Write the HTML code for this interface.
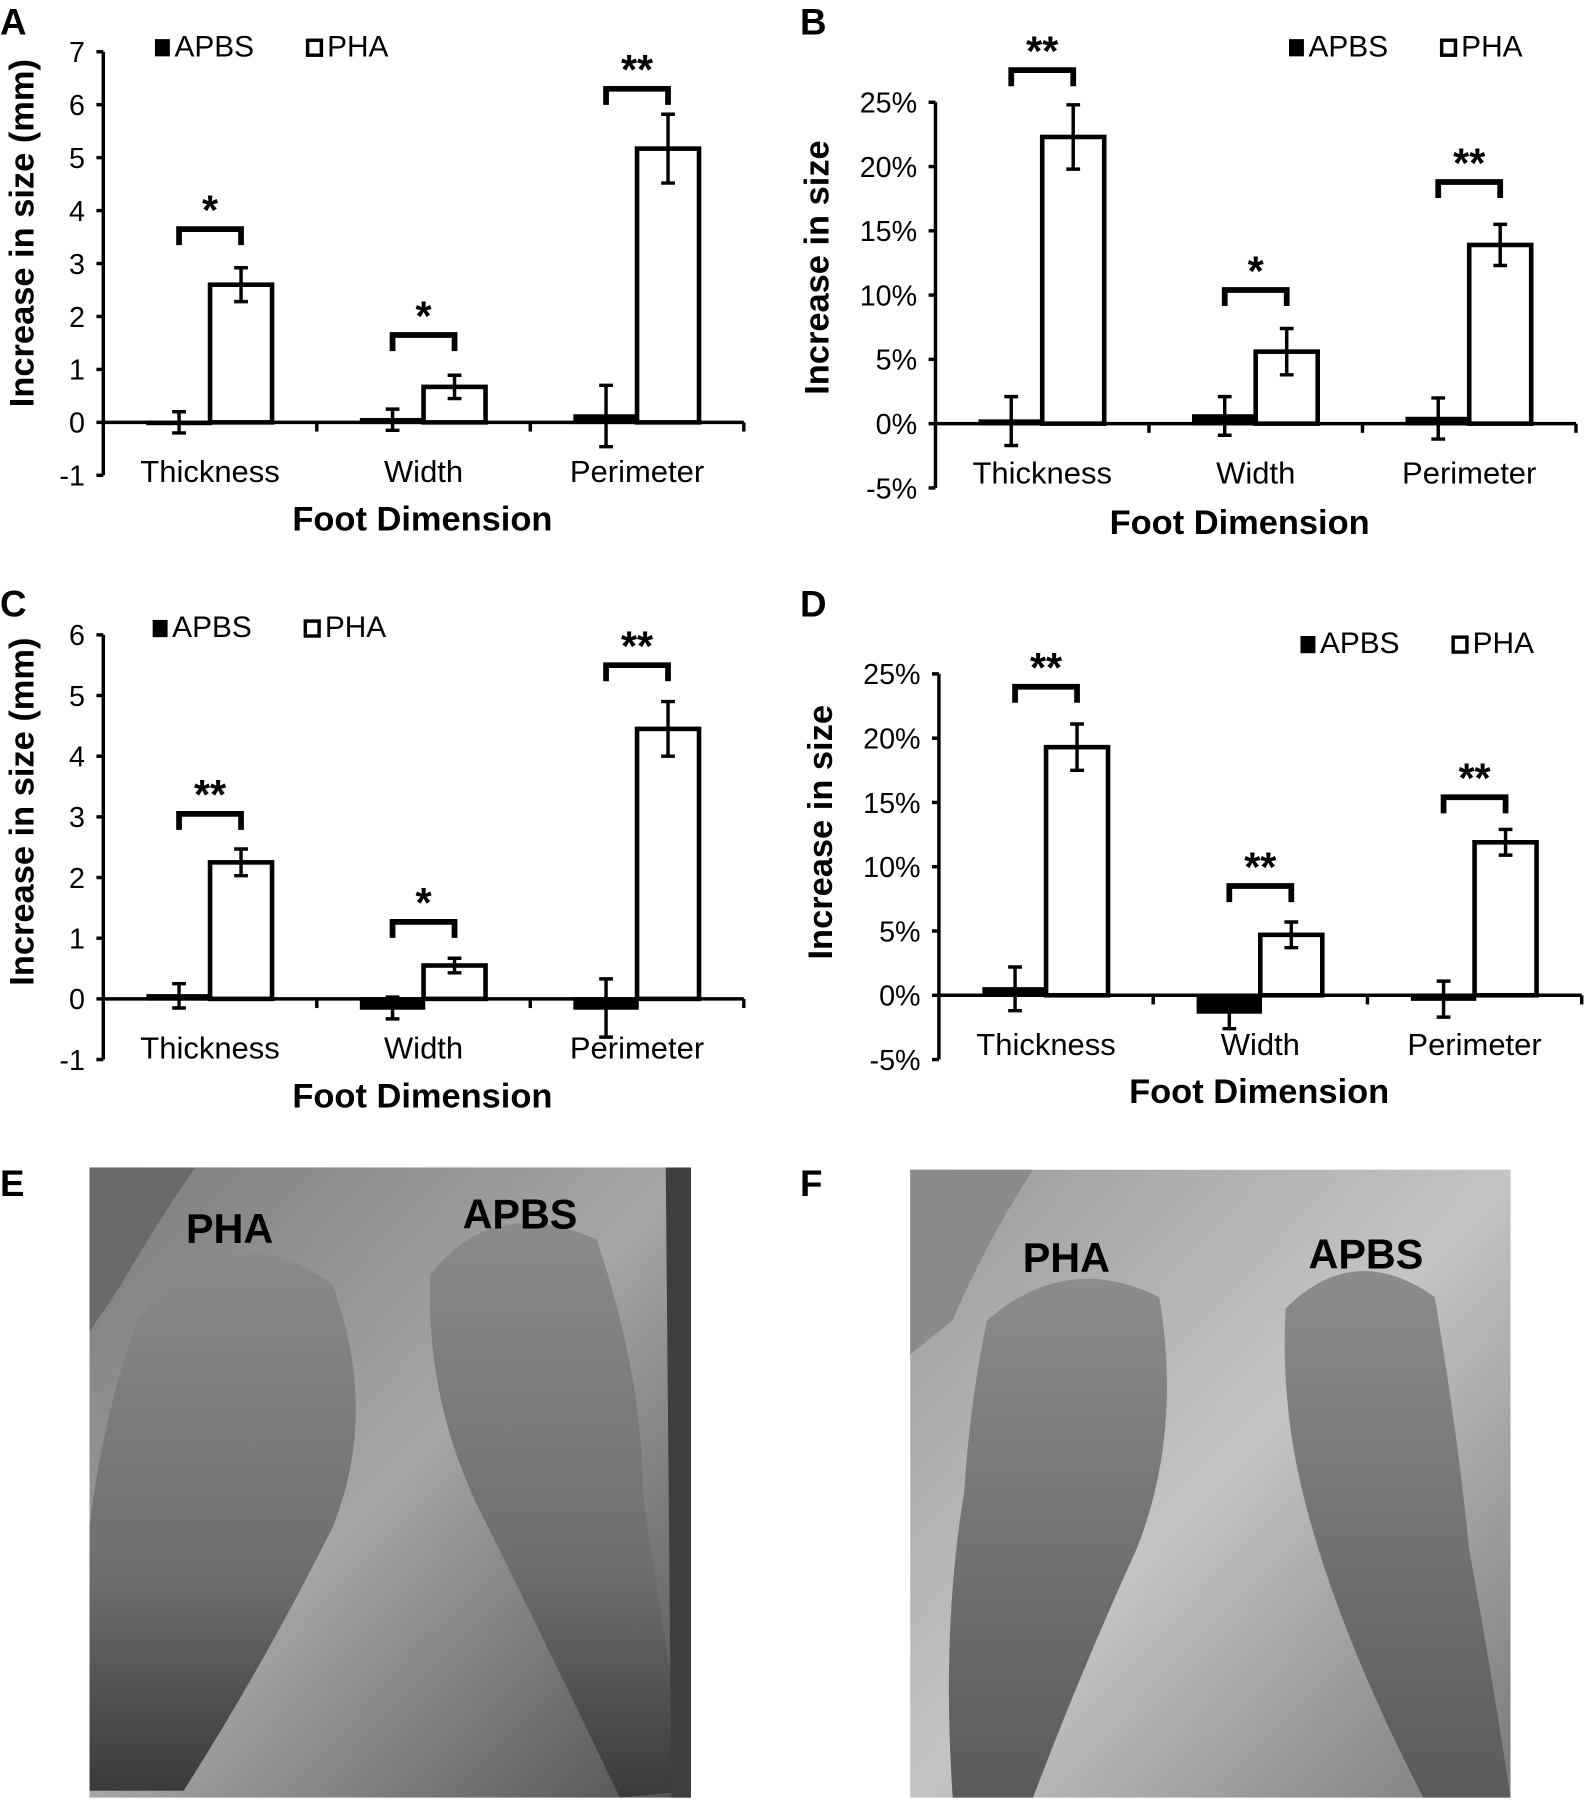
<!DOCTYPE html>
<html><head><meta charset="utf-8"><style>
html,body{margin:0;padding:0;background:#fff;}
svg{display:block;}
text{font-family:"Liberation Sans Narrow","Liberation Sans",sans-serif;fill:#000;}
.b{font-family:"Liberation Sans",sans-serif;font-weight:bold;}
</style></head><body>
<svg id="fig" width="1584" height="1800" viewBox="0 0 1380 1568" xmlns="http://www.w3.org/2000/svg">
<defs>
<linearGradient id="gE" x1="0" y1="0" x2="1" y2="1">
<stop offset="0" stop-color="#7c7c7c"/><stop offset="0.5" stop-color="#a6a6a6"/><stop offset="1" stop-color="#505050"/>
</linearGradient>
<linearGradient id="gF" x1="0" y1="0" x2="1" y2="1">
<stop offset="0" stop-color="#9a9a9a"/><stop offset="0.5" stop-color="#c4c4c4"/><stop offset="1" stop-color="#7a7a7a"/>
</linearGradient>
<linearGradient id="footE" x1="0" y1="0" x2="0" y2="1">
<stop offset="0" stop-color="#8a8a8a"/><stop offset="0.6" stop-color="#6e6e6e"/><stop offset="1" stop-color="#3a3a3a"/>
</linearGradient>
<linearGradient id="footF" x1="0" y1="0" x2="0" y2="1">
<stop offset="0" stop-color="#8c8c8c"/><stop offset="1" stop-color="#5a5a5a"/>
</linearGradient>
</defs>
<g id="charts"></g>
<g>
<rect x="78" y="1017" width="524" height="549" fill="url(#gE)"/>
<path d="M78 1017 L170 1017 Q140 1060 105 1120 L78 1160Z" fill="#6a6a6a"/>
<path d="M120 1150 Q200 1050 290 1120 Q330 1230 290 1330 Q230 1450 160 1560 L78 1560 L78 1330 Q90 1230 120 1150Z" fill="url(#footE)"/>
<path d="M375 1110 Q430 1040 520 1080 Q560 1200 560 1300 Q580 1440 602 1560 L540 1566 Q470 1420 420 1320 Q370 1220 375 1110Z" fill="url(#footE)"/>
<path d="M580 1017 L602 1017 L602 1566 L585 1566Z" fill="#3e3e3e"/>
<text class="b" x="200" y="1083" font-size="36" text-anchor="middle">PHA</text>
<text class="b" x="453" y="1070" font-size="36" text-anchor="middle">APBS</text>
</g>
<g>
<rect x="793" y="1019" width="523" height="547" fill="url(#gF)"/>
<path d="M793 1019 L900 1019 Q860 1080 830 1150 L793 1180Z" fill="#8a8a8a"/>
<path d="M860 1150 Q930 1090 1010 1130 Q1030 1250 990 1350 Q940 1460 900 1566 L830 1566 Q820 1420 840 1300 Q845 1220 860 1150Z" fill="url(#footF)"/>
<path d="M1120 1140 Q1180 1080 1250 1130 Q1270 1250 1280 1350 Q1300 1460 1316 1566 L1240 1566 Q1170 1430 1140 1320 Q1115 1230 1120 1140Z" fill="url(#footF)"/>
<text class="b" x="929" y="1108" font-size="36" text-anchor="middle">PHA</text>
<text class="b" x="1190" y="1105" font-size="36" text-anchor="middle">APBS</text>
</g>
<text class="b" x="0" y="1042" font-size="32">E</text>
<text class="b" x="697" y="1042" font-size="32">F</text>
</svg>
<script>
const categories = ["Thickness", "Width", "Perimeter"];
// Panel A (mm)
const aApbs = [0.0, 0.05, 0.12];
const aApbsErr = [0.2, 0.2, 0.58];
const aPha = [2.6, 0.67, 5.17];
const aPhaErr = [0.32, 0.22, 0.65];
const aBracket = [3.65, 1.65, 6.3];
const aStars = ["*", "*", "**"];
const aTicks = [-1, 0, 1, 2, 3, 4, 5, 6, 7];
// Panel B (%)
const bApbs = [0.2, 0.6, 0.4];
const bApbsErr = [1.9, 1.5, 1.6];
const bPha = [22.3, 5.6, 13.9];
const bPhaErr = [2.5, 1.8, 1.6];
const bBracket = [27.5, 10.4, 18.8];
const bStars = ["**", "*", "**"];
const bTicks = [-5, 0, 5, 10, 15, 20, 25];
// Panel C (mm)
const cApbs = [0.05, -0.15, -0.15];
const cApbsErr = [0.2, 0.18, 0.48];
const cPha = [2.25, 0.55, 4.45];
const cPhaErr = [0.22, 0.12, 0.45];
const cBracket = [3.05, 1.27, 5.5];
const cStars = ["**", "*", "**"];
const cTicks = [-1, 0, 1, 2, 3, 4, 5, 6];
// Panel D (%)
const dApbs = [0.5, -1.3, -0.3];
const dApbsErr = [1.7, 1.3, 1.4];
const dPha = [19.3, 4.7, 11.9];
const dPhaErr = [1.8, 1.0, 1.0];
const dBracket = [24.0, 8.5, 15.4];
const dStars = ["**", "**", "**"];
const dTicks = [-5, 0, 5, 10, 15, 20, 25];

const NS = "http://www.w3.org/2000/svg";
const root = document.getElementById("charts");
function mk(tag, attrs, parent, txt) {
  const e = document.createElementNS(NS, tag);
  for (const k in attrs) e.setAttribute(k, attrs[k]);
  if (txt !== undefined) e.textContent = txt;
  parent.appendChild(e);
  return e;
}
function panel(cfg) {
  const g = mk("g", {}, root);
  
  
  const y = v => cfg.y0 + (v - cfg.vmin) / (cfg.vmax - cfg.vmin) * (cfg.y1 - cfg.y0);
  const catW = (cfg.xEnd - cfg.x0) / categories.length;
  const cx = i => cfg.x0 + catW * (i + 0.5);
  const lt = mk("text", {x: cfg.lx, y: cfg.ly, "font-size": 32, class: "b"}, g, cfg.letter);
  
  
  const ya = mk("line", {x1: cfg.x0, x2: cfg.x0, y1: y(cfg.vmin), y2: y(cfg.vmax), stroke: "#000", "stroke-width": 3}, g);
  
  
  cfg.ticks.forEach(t => {
    mk("line", {x1: cfg.x0 - 6, x2: cfg.x0, y1: y(t), y2: y(t), stroke: "#000", "stroke-width": 3}, g);
    const tl = mk("text", {x: cfg.x0 - 16, y: y(t) + 9, "font-size": 25, "text-anchor": "end"}, g, t + cfg.suffix);
    
    
  });
  const yl = mk("text", {x: 0, y: 0, "font-size": 30, class: "b", "text-anchor": "middle", transform: `translate(${cfg.ylx},${cfg.yly}) rotate(-90)`}, g, cfg.ylabel);
  
  
  const bw = 54;
  categories.forEach((c, i) => {
    const c0 = cx(i);
    const va = cfg.apbs[i], vp = cfg.pha[i];
    const ra = mk("rect", {x: c0 - bw, y: Math.min(y(va), y(0)), width: bw, height: Math.max(Math.abs(y(va) - y(0)), 1), fill: "#000", stroke: "#000", "stroke-width": 3}, g);
    
    
    const rp = mk("rect", {x: c0, y: Math.min(y(vp), y(0)), width: bw, height: Math.abs(y(vp) - y(0)), fill: "#fff", stroke: "#000", "stroke-width": 4}, g);
    
    
    [[c0 - bw / 2, va, cfg.apbsErr[i]], [c0 + bw / 2, vp, cfg.phaErr[i]]].forEach(([ex, v, e]) => {
      const eg = mk("path", {d: `M${ex} ${y(v + e)} V${y(v - e)} M${ex - 6} ${y(v + e)} H${ex + 6} M${ex - 6} ${y(v - e)} H${ex + 6}`, stroke: "#000", "stroke-width": 3, fill: "none"}, g);
      
      
    });
    const by = y(cfg.bracket[i]);
    const br = mk("path", {d: `M${c0 - bw / 2} ${by + 14} V${by} H${c0 + bw / 2} V${by + 14}`, stroke: "#000", "stroke-width": 5, fill: "none"}, g);
    
    
    const st = mk("text", {x: c0, y: by - 4, "font-size": 36, class: "b", "text-anchor": "middle"}, g, cfg.stars[i]);
    
    
    const cl = mk("text", {x: c0, y: cfg.catY, "font-size": 27, "text-anchor": "middle"}, g, c);
    
    
  });
  const xa = mk("line", {x1: cfg.x0, x2: cfg.xEnd, y1: y(0), y2: y(0), stroke: "#000", "stroke-width": 3}, g);
  
  
  for (let i = 1; i <= categories.length; i++) {
    mk("line", {x1: cfg.x0 + catW * i, x2: cfg.x0 + catW * i, y1: y(0), y2: y(0) + 8, stroke: "#000", "stroke-width": 3}, g);
  }
  const xt = mk("text", {x: cfg.xtX, y: cfg.xtY, "font-size": 30, class: "b", "text-anchor": "middle"}, g, "Foot Dimension");
  
  
  const la = mk("rect", {x: cfg.legX, y: cfg.legY - 15, width: 13, height: 15, fill: "#000"}, g);
  
  
  const lat = mk("text", {x: cfg.legX + 17, y: cfg.legY, "font-size": 26}, g, "APBS");
  
  
  const lp = mk("rect", {x: cfg.legX + 133, y: cfg.legY - 14, width: 12, height: 13, fill: "#fff", stroke: "#000", "stroke-width": 3}, g);
  
  
  const lpt = mk("text", {x: cfg.legX + 150, y: cfg.legY, "font-size": 26}, g, "PHA");
  
  
}
panel({id: "chart-a", letter: "A", lx: 0, ly: 30, x0: 90, xEnd: 648, y0: 414, y1: 45, vmin: -1, vmax: 7, ticks: aTicks, suffix: "",
  apbs: aApbs, apbsErr: aApbsErr, pha: aPha, phaErr: aPhaErr, bracket: aBracket, stars: aStars,
  ylabel: "Increase in size (mm)", ylx: 29, yly: 203, catY: 420, xtX: 368, xtY: 462, legX: 135, legY: 49});
panel({id: "chart-b", letter: "B", lx: 697, ly: 30, x0: 815, xEnd: 1373, y0: 425, y1: 89, vmin: -5, vmax: 25, ticks: bTicks, suffix: "%",
  apbs: bApbs, apbsErr: bApbsErr, pha: bPha, phaErr: bPhaErr, bracket: bBracket, stars: bStars,
  ylabel: "Increase in size", ylx: 722, yly: 233, catY: 421, xtX: 1080, xtY: 465, legX: 1123, legY: 49});
panel({id: "chart-c", letter: "C", lx: 0, ly: 537, x0: 90, xEnd: 648, y0: 923, y1: 553, vmin: -1, vmax: 6, ticks: cTicks, suffix: "",
  apbs: cApbs, apbsErr: cApbsErr, pha: cPha, phaErr: cPhaErr, bracket: cBracket, stars: cStars,
  ylabel: "Increase in size (mm)", ylx: 29, yly: 707, catY: 922, xtX: 368, xtY: 965, legX: 133, legY: 555});
panel({id: "chart-d", letter: "D", lx: 697, ly: 537, x0: 818, xEnd: 1378, y0: 923, y1: 587, vmin: -5, vmax: 25, ticks: dTicks, suffix: "%",
  apbs: dApbs, apbsErr: dApbsErr, pha: dPha, phaErr: dPhaErr, bracket: dBracket, stars: dStars,
  ylabel: "Increase in size", ylx: 725, yly: 725, catY: 919, xtX: 1097, xtY: 961, legX: 1133, legY: 569});
</script>
</body></html>
